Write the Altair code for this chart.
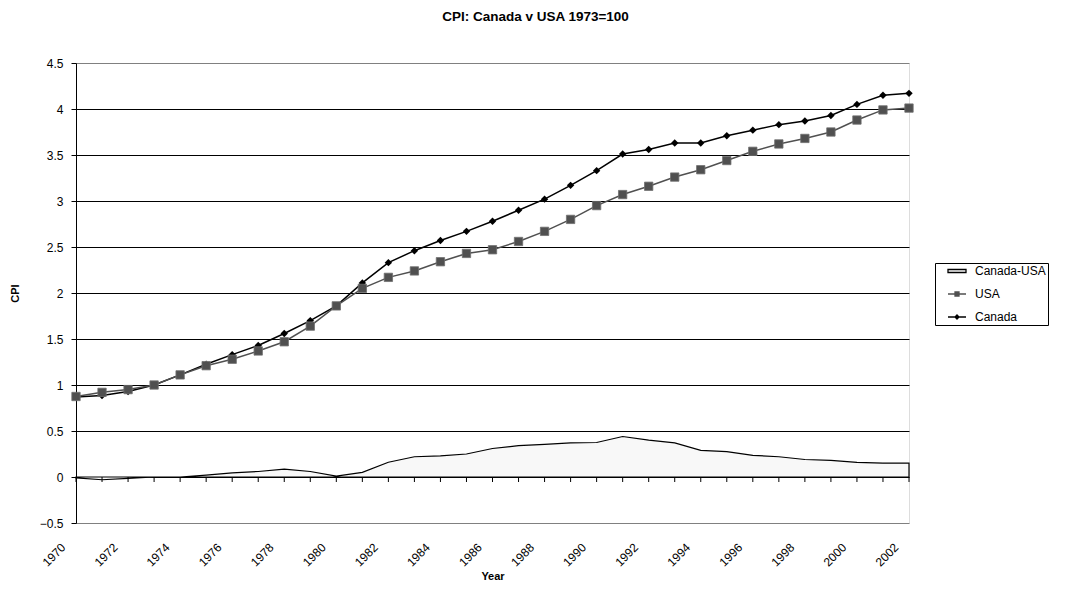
import altair as alt
import pandas as pd

# ---- data ----
years = list(range(1970, 2003))
canada = [0.87, 0.885, 0.93, 1.00, 1.11, 1.225, 1.33, 1.43, 1.56, 1.70, 1.86,
          2.11, 2.33, 2.46, 2.57, 2.67,
          2.78, 2.90, 3.02, 3.17, 3.33, 3.51, 3.56, 3.63, 3.63, 3.71, 3.77,
          3.83, 3.87, 3.93, 4.05, 4.15, 4.17]
usa = [0.875, 0.92, 0.95, 1.00, 1.11, 1.21, 1.28, 1.37, 1.47, 1.64, 1.86,
       2.05, 2.17, 2.24, 2.34, 2.43,
       2.47, 2.56, 2.67, 2.80, 2.95, 3.07, 3.16, 3.26, 3.34, 3.44, 3.54,
       3.62, 3.68, 3.75, 3.88, 3.99, 4.01]
canada_usa = [-0.01, -0.03, -0.015, 0.0, 0.0, 0.02, 0.045, 0.06, 0.085, 0.06, 0.01,
              0.05, 0.16, 0.22, 0.23, 0.25,
              0.31, 0.34, 0.355, 0.37, 0.375, 0.44, 0.40, 0.37, 0.29, 0.275, 0.235,
              0.22, 0.19, 0.18, 0.16, 0.15, 0.15]
label_years = list(range(1970, 2003, 2))
y_ticks = [-0.5, 0, 0.5, 1, 1.5, 2, 2.5, 3, 3.5, 4, 4.5]
series_names = ["Canada-USA", "USA", "Canada"]

df = pd.DataFrame({"Year": years, "Canada": canada, "USA": usa, "CanadaUSA": canada_usa})
leg_df = pd.DataFrame({"series": series_names})

FONT = "Liberation Sans"
USA_GREY = "#505050"

x_scale = alt.Scale(domain=[1970, 2002], nice=False, zero=False)
y_scale = alt.Scale(domain=[-0.5, 4.5], nice=False, zero=False)

x_axis = alt.Axis(values=label_years, format="d", labelAngle=-45, labelAlign="right",
                  labelBaseline="middle", labelPadding=22, labelOffset=-13,
                  ticks=False, domain=False, grid=False,
                  labelFont=FONT, labelFontSize=12, labelColor="black",
                  title="Year", titleFont=FONT, titleFontSize=11, titleFontWeight="bold",
                  titleColor="black", titleY=53, titleBaseline="middle")
y_axis = alt.Axis(values=y_ticks, format=".1~f", tickSize=5, tickColor="black",
                  domainColor="black", labelPadding=8, labelFont=FONT, labelFontSize=12,
                  labelColor="black",
                  gridColor={"condition": {"test": "datum.value == 4.5 || datum.value == -0.5",
                                           "value": "#808080"}, "value": "black"},
                  title="CPI", titleFont=FONT, titleFontSize=11, titleFontWeight="bold",
                  titleColor="black", titleX=-61, titleY=230, titleAngle=-90,
                  titleAlign="center", titleBaseline="middle")


def xe():
    return alt.X("Year:Q", scale=x_scale, axis=x_axis)


def ye(field):
    return alt.Y(f"{field}:Q", scale=y_scale, axis=y_axis, title="CPI")


base = alt.Chart(df)

area = base.mark_area(fill="#f8f8f8", stroke="black", strokeWidth=1.2).encode(
    x=xe(), y=ye("CanadaUSA"), y2=alt.datum(0))

ticks = base.mark_tick(color="black", thickness=1, size=5, orient="vertical",
                       yOffset=2.5, opacity=1).encode(x=xe(), y=alt.datum(0, type="quantitative"))

can_line = base.mark_line(color="black", strokeWidth=1.5).encode(x=xe(), y=ye("Canada"))
can_pts = base.mark_point(shape="diamond", filled=True, color="black", size=55,
                          opacity=1).encode(x=xe(), y=ye("Canada"))
usa_line = base.mark_line(color=USA_GREY, strokeWidth=1.5).encode(x=xe(), y=ye("USA"))
usa_pts = base.mark_point(shape="square", filled=True, color=USA_GREY, size=70,
                          stroke="#707070", strokeWidth=0.8, opacity=1).encode(x=xe(), y=ye("USA"))

paths = [
    "M-1.8,-0.3H1.8V0.3H-1.8Z",
    "M-1.8,0H1.8M-0.4,-0.4H0.4V0.4H-0.4Z",
    "M-1.8,0H1.8M0,-0.4L0.4,0L0,0.4L-0.4,0Z",
]
leg = alt.Legend(title=None, orient="none", legendX=859, legendY=200,
                 strokeColor="black", fillColor="white", padding=2,
                 symbolSize=100, symbolStrokeWidth=1.3, symbolOffset=14,
                 labelFont=FONT, labelFontSize=12, labelColor="black",
                 labelOffset=12, rowPadding=11)
legend_layer = alt.Chart(leg_df).mark_point(filled=True, opacity=1).encode(
    fill=alt.Fill("series:N", scale=alt.Scale(domain=series_names,
                                               range=["white", USA_GREY, "black"]), legend=leg),
    stroke=alt.Stroke("series:N", scale=alt.Scale(domain=series_names,
                                                   range=["black", USA_GREY, "black"]), legend=leg),
    shape=alt.Shape("series:N", scale=alt.Scale(domain=series_names, range=paths), legend=leg),
).transform_filter("false")

chart = alt.layer(area, ticks, can_line, can_pts, usa_line, usa_pts, legend_layer).properties(
    width=833, height=460,
    title=alt.TitleParams("CPI: Canada v USA 1973=100", font=FONT, fontSize=13.5,
                          fontWeight="bold", anchor="middle", dx=43, offset=34, color="black"),
    autosize=alt.AutoSizeParams(type="none"),
    padding={"left": 68, "top": 55, "right": 153, "bottom": 59},
).configure_view(stroke="#808080", strokeWidth=1).configure(background="white")

chart.save("out.html", embed_options={"renderer": "svg", "actions": False})
